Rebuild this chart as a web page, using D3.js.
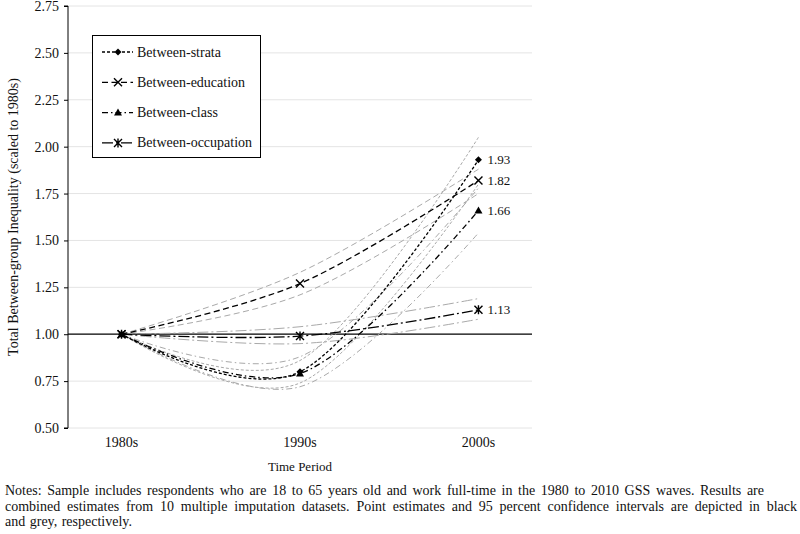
<!DOCTYPE html>
<html>
<head>
<meta charset="utf-8">
<script src="https://cdn.jsdelivr.net/npm/d3@7"></script>
<style>
  body { margin: 0; background: #fff; }
  svg text { font-family: "Liberation Serif", "DejaVu Serif", serif !important; }
</style>
</head>
<body>
<div id="chart"></div>
<script>
// data
var periods = ["1980s", "1990s", "2000s"];
var yTicks = [0.50, 0.75, 1.00, 1.25, 1.50, 1.75, 2.00, 2.25, 2.50, 2.75];

var strataEst = [1.00, 0.80, 1.93],
    strataLo  = [1.00, 0.74, 1.80],
    strataHi  = [1.00, 0.86, 2.05];
var educEst = [1.00, 1.27, 1.82],
    educLo  = [1.00, 1.21, 1.75],
    educHi  = [1.00, 1.33, 1.88];
var classEst = [1.00, 0.79, 1.66],
    classLo  = [1.00, 0.72, 1.54],
    classHi  = [1.00, 0.88, 1.78];
var occEst = [1.00, 0.99, 1.13],
    occLo  = [1.00, 0.95, 1.08],
    occHi  = [1.00, 1.04, 1.19];

var seriesNames = ["Between-strata", "Between-education", "Between-class", "Between-occupation"];

var notesLines = [
  "Notes: Sample includes respondents who are 18 to 65 years old and work full-time in the 1980 to 2010 GSS waves. Results are",
  "combined estimates from 10 multiple imputation datasets. Point estimates and 95 percent confidence intervals are depicted in black",
  "and grey, respectively."
];

var series = [
  { name: seriesNames[0], est: strataEst, lo: strataLo, hi: strataHi, dash: "3,2",       marker: "diamond" },
  { name: seriesNames[1], est: educEst,   lo: educLo,   hi: educHi,   dash: "6,3.5",     marker: "times" },
  { name: seriesNames[2], est: classEst,  lo: classLo,  hi: classHi,  dash: "6,3,1.5,3", marker: "triangle" },
  { name: seriesNames[3], est: occEst,    lo: occLo,    hi: occHi,    dash: "11,3,2,3",  marker: "star" }
];

var W = 800, H = 534;
var plot = { left: 68, right: 532, top: 6, bottom: 428 };

var svg = d3.select("#chart").append("svg")
    .attr("width", W)
    .attr("height", H);

var x = d3.scalePoint()
    .domain(periods)
    .range([plot.left, plot.right])
    .padding(0.3);

var y = d3.scaleLinear()
    .domain([0.5, 2.75])
    .range([plot.bottom, plot.top]);

// gridlines
svg.append("g").selectAll("line")
    .data(yTicks.filter(function(d) { return d !== 1; }))
    .enter().append("line")
    .attr("x1", plot.left).attr("x2", plot.right)
    .attr("y1", function(d) { return y(d); })
    .attr("y2", function(d) { return y(d); })
    .attr("stroke", "#e4e4e4")
    .attr("stroke-width", 1);

// y axis
var yAxis = d3.axisLeft(y)
    .tickValues(yTicks)
    .tickFormat(d3.format(".2f"))
    .tickSize(4)
    .tickPadding(5);

var yg = svg.append("g")
    .attr("transform", "translate(" + plot.left + ",0)")
    .call(yAxis);
yg.attr("font-family", null);
yg.select(".domain").attr("stroke", "#000").attr("d", "M-4," + y(2.75) + "H0V" + y(0.5) + "H-4");
yg.selectAll(".tick line").attr("stroke", "#000");
yg.selectAll(".tick text")
    .attr("fill", "#111")
    .style("font-size", "14px");

// reference line at 1.00
svg.append("line")
    .attr("x1", plot.left).attr("x2", plot.right)
    .attr("y1", y(1)).attr("y2", y(1))
    .attr("stroke", "#000")
    .attr("stroke-width", 1.2);

// x labels
svg.append("g").selectAll("text")
    .data(periods)
    .enter().append("text")
    .attr("x", function(d) { return x(d); })
    .attr("y", 447)
    .attr("text-anchor", "middle")
    .style("font-size", "14px")
    .attr("fill", "#111")
    .text(function(d) { return d; });

svg.append("text")
    .attr("x", 300)
    .attr("y", 471)
    .attr("text-anchor", "middle")
    .style("font-size", "13px")
    .attr("fill", "#111")
    .text("Time Period");

svg.append("text")
    .attr("transform", "translate(18,217) rotate(-90)")
    .attr("text-anchor", "middle")
    .style("font-size", "14px")
    .attr("fill", "#111")
    .text("Total Between-group Inequality (scaled to 1980s)");

// lines
var line = d3.line()
    .x(function(d, i) { return x(periods[i]); })
    .y(function(d) { return y(d); })
    .curve(d3.curveCatmullRom.alpha(0));

var ciLayer = svg.append("g");
var estLayer = svg.append("g");

series.forEach(function(s) {
  [s.lo, s.hi].forEach(function(b) {
    ciLayer.append("path")
        .attr("d", line(b))
        .attr("fill", "none")
        .attr("stroke", "#a9a9a9")
        .attr("stroke-width", 1)
        .attr("stroke-dasharray", s.dash);
  });
});

series.forEach(function(s) {
  estLayer.append("path")
      .attr("d", line(s.est))
      .attr("fill", "none")
      .attr("stroke", "#000")
      .attr("stroke-width", 1.3)
      .attr("stroke-dasharray", s.dash);
});

function drawMarker(g, type, cx, cy) {
  if (type === "diamond") {
    g.append("path")
        .attr("d", "M" + cx + "," + (cy - 3.5) + "L" + (cx + 3.5) + "," + cy + "L" + cx + "," + (cy + 3.5) + "L" + (cx - 3.5) + "," + cy + "Z")
        .attr("fill", "#000");
  } else if (type === "triangle") {
    g.append("path")
        .attr("d", "M" + cx + "," + (cy - 4) + "L" + (cx + 4) + "," + (cy + 3) + "L" + (cx - 4) + "," + (cy + 3) + "Z")
        .attr("fill", "#000");
  } else {
    var r = 4;
    var d = "M" + (cx - r) + "," + (cy - r) + "L" + (cx + r) + "," + (cy + r) +
            "M" + (cx - r) + "," + (cy + r) + "L" + (cx + r) + "," + (cy - r);
    if (type === "star") d += "M" + cx + "," + (cy - r - 0.5) + "L" + cx + "," + (cy + r + 0.5);
    g.append("path")
        .attr("d", d)
        .attr("stroke", "#000")
        .attr("stroke-width", 1.4)
        .attr("fill", "none");
  }
}

series.forEach(function(s) {
  s.est.forEach(function(v, i) {
    drawMarker(estLayer, s.marker, x(periods[i]), y(v));
  });
  // end labels
  svg.append("text")
      .attr("x", x(periods[2]) + 9)
      .attr("y", y(s.est[2]) + 4.5)
      .style("font-size", "13px")
      .attr("fill", "#111")
      .text(d3.format(".2f")(s.est[2]));
});

// legend
var legend = svg.append("g");
legend.append("rect")
    .attr("x", 92.5).attr("y", 35.5)
    .attr("width", 168).attr("height", 122)
    .attr("fill", "#fff")
    .attr("stroke", "#000")
    .attr("stroke-width", 1);

series.forEach(function(s, i) {
  var ly = 52 + i * 30.3;
  legend.append("line")
      .attr("x1", 102).attr("x2", 133)
      .attr("y1", ly).attr("y2", ly)
      .attr("stroke", "#000")
      .attr("stroke-width", 1.3)
      .attr("stroke-dasharray", s.dash);
  drawMarker(legend, s.marker, 118, ly);
  legend.append("text")
      .attr("x", 137)
      .attr("y", ly + 4.5)
      .style("font-size", "14px")
      .attr("fill", "#111")
      .text(s.name);
});

// notes, justified like the source
var notes = svg.append("g").style("font-size", "14px").attr("fill", "#111");
var lineWidths = [764, 797, null];
notesLines.forEach(function(txt, li) {
  var by = 495 + li * 15.5;
  var words = txt.split(" ");
  var nodes = words.map(function(w) {
    return notes.append("text").attr("y", by).text(w);
  });
  var widths = nodes.map(function(n) { return n.node().getComputedTextLength(); });
  var total = d3.sum(widths);
  var gap = lineWidths[li] ? (lineWidths[li] - 5 - total) / (words.length - 1) : 4.5;
  var cx = 5;
  nodes.forEach(function(n, k) {
    n.attr("x", cx);
    cx += widths[k] + gap;
  });
});
</script>
</body>
</html>
